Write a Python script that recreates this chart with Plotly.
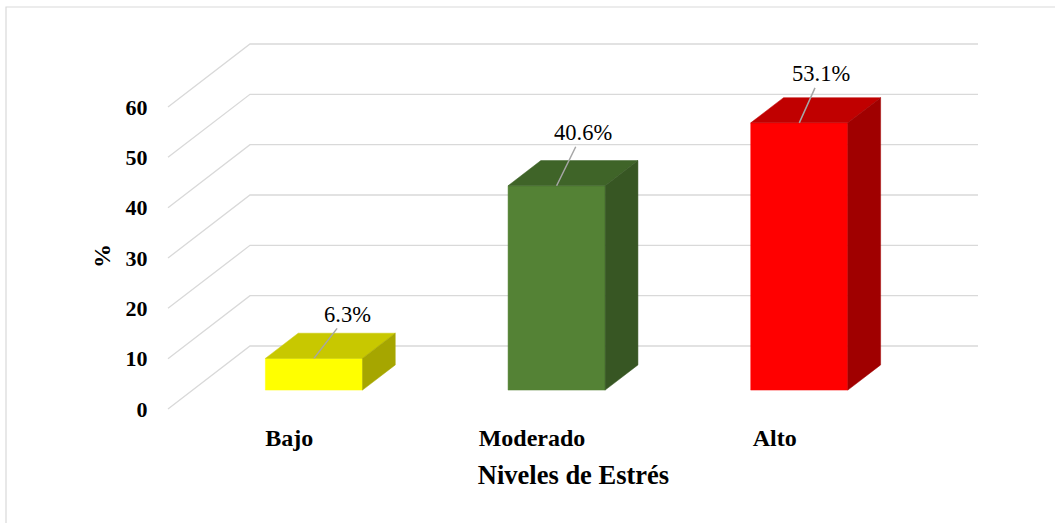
import plotly.graph_objects as go

# ---- data ----
categories = ["Bajo", "Moderado", "Alto"]
values = [6.3, 40.6, 53.1]
value_labels = ["6.3%", "40.6%", "53.1%"]
y_ticks = [0, 10, 20, 30, 40, 50, 60]
x_title = "Niveles de Estrés"
y_title = "%"

# ---- style ----
front_colors = ["#FFFF00", "#548235", "#FF0000"]
top_colors = ["#C8C800", "#3F6428", "#C00000"]
side_colors = ["#A6A600", "#375623", "#A00000"]
label_dx = [34, 26, 22]     # pixel offsets of the value labels
label_dy = [-44, -53, -49]
grid_color = "#D9D9D9"
FONT = "Liberation Serif, Times New Roman, serif"

# 3D projection in data units (depth vector of the floor)
DX = 82 / 242.67
DY = 63 / 5.033
BAR_HALF = 0.2
D0, D1 = 0.3, 0.7  # depth slice occupied by bars

fig = go.Figure()

# gridlines: back wall + left wall diagonals
gx, gy = [], []
for v in y_ticks:
    gx += [0, DX, len(categories) + DX, None]
    gy += [v, v + DY, v + DY, None]
fig.add_trace(go.Scatter(x=gx, y=gy, mode="lines",
                         line=dict(color=grid_color, width=1.3),
                         hoverinfo="skip"))


def poly(xs, ys, color):
    fig.add_trace(go.Scatter(x=xs + [xs[0]], y=ys + [ys[0]], mode="lines",
                             fill="toself", fillcolor=color,
                             line=dict(color=color, width=0.5),
                             hoverinfo="skip"))


for i, v in enumerate(values):
    c = i + 0.5
    xl = c - BAR_HALF + D0 * DX
    xr = c + BAR_HALF + D0 * DX
    yb = D0 * DY
    yt = v + D0 * DY
    ddx = (D1 - D0) * DX
    ddy = (D1 - D0) * DY
    # front
    poly([xl, xr, xr, xl], [yb, yb, yt, yt], front_colors[i])
    # top
    poly([xl, xr, xr + ddx, xl + ddx], [yt, yt, yt + ddy, yt + ddy], top_colors[i])
    # side
    poly([xr, xr + ddx, xr + ddx, xr], [yb, yb + ddy, yt + ddy, yt], side_colors[i])
    # value label with leader line
    fig.add_annotation(x=c + D0 * DX, y=yt, text=value_labels[i],
                       showarrow=True, arrowhead=0, arrowwidth=1.5,
                       arrowcolor="#A6A6A6", ax=label_dx[i], ay=label_dy[i],
                       standoff=0, startstandoff=0,
                       font=dict(family=FONT, size=22.5, color="#000000"))

L, R, T, B = 162, 985, 28, 414
W, H = 1055, 523
x0 = (L - 168) / 242.67
x1 = (R - 168) / 242.67
y0 = (409 - B) / 5.033
y1 = (409 - T) / 5.033
pw, ph = R - L, B - T

# y-axis title "%"
fig.add_annotation(xref="paper", yref="paper",
                   x=(102 - L) / pw, y=(B - 256) / ph,
                   text="<b>" + y_title + "</b>", textangle=-90, showarrow=False,
                   xanchor="center", yanchor="middle",
                   font=dict(family=FONT, size=24, color="#000000"))

# chart border (left & top visible)
fig.add_shape(type="rect", xref="paper", yref="paper",
              x0=(6 - L) / pw, x1=(1062 - L) / pw,
              y0=(B - 530) / ph, y1=(B - 7) / ph,
              line=dict(color="#D9D9D9", width=1.2), fillcolor="rgba(0,0,0,0)",
              layer="below")

fig.update_layout(
    width=W, height=H, autosize=False,
    margin=dict(l=L, r=W - R, t=T, b=H - B),
    paper_bgcolor="white", plot_bgcolor="white",
    showlegend=False, hovermode=False,
    xaxis=dict(range=[x0, x1], showgrid=False, zeroline=False, showline=False,
               tickmode="array", tickvals=[i + 0.5 for i in range(len(categories))],
               ticktext=["<b>%s</b>" % c for c in categories],
               ticks="outside", ticklen=2,
               tickcolor="rgba(0,0,0,0)",
               tickfont=dict(family=FONT, size=24, color="#000000"),
               title=dict(text="<b>" + x_title + "</b>", standoff=15,
                          font=dict(family=FONT, size=26.5, color="#000000"))),
    yaxis=dict(range=[y0, y1], showgrid=False, zeroline=False, showline=False,
               tickmode="array", tickvals=y_ticks,
               ticktext=["<b>%d</b>" % t for t in y_ticks],
               ticks="outside", ticklen=9, tickcolor="rgba(0,0,0,0)",
               tickfont=dict(family=FONT, size=22, color="#000000")),
)

fig.write_html("out.html", config={"displayModeBar": False},
               post_script="document.body.style.margin='0';document.body.style.overflow='hidden';")
